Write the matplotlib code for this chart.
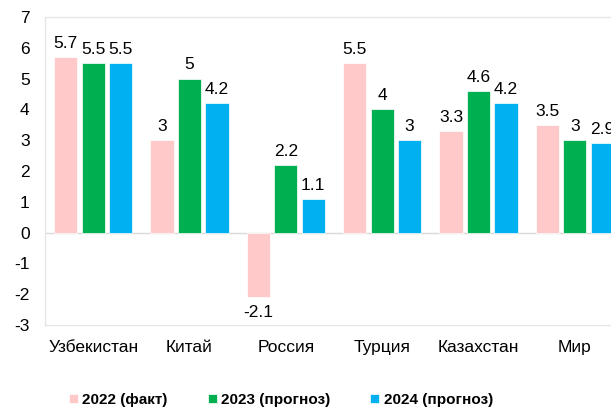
import numpy as np
import matplotlib.pyplot as plt
from matplotlib.ticker import FuncFormatter

plt.rcParams['font.family'] = ['Liberation Sans', 'DejaVu Sans']

countries = ['Узбекистан', 'Китай', 'Россия', 'Турция', 'Казахстан', 'Мир']
fact_2022 = [5.7, 3, -2.1, 5.5, 3.3, 3.5]
fc_2023 = [5.5, 5, 2.2, 4, 4.6, 3]
fc_2024 = [5.5, 4.2, 1.1, 3, 4.2, 2.9]
series_names = ['2022 (факт)', '2023 (прогноз)', '2024 (прогноз)']
colors = ['#FFC9C9', '#00B050', '#00B0F0']

fig = plt.figure(figsize=(6.11, 4.08), dpi=100)
ax = fig.add_axes([45 / 611, 1 - 325 / 408, 578 / 611, 308 / 408])

x = np.arange(len(countries))
w = 0.24
step = 0.285
for i, (vals, name, c) in enumerate(zip([fact_2022, fc_2023, fc_2024], series_names, colors)):
    pos = x + (i - 1) * step
    ax.bar(pos, vals, width=w, color=c, label=name, edgecolor='white', linewidth=0.5, zorder=2)
    for p, v in zip(pos, vals):
        txt = ('%g' % v)
        if v >= 0:
            ax.text(p, v + 0.2, txt, ha='center', va='bottom', fontsize=12.5)
        else:
            ax.text(p, v - 0.25, txt, ha='center', va='top', fontsize=12.5)

ax.set_xlim(-0.5, 5.5)
ax.set_ylim(-3, 7)
ax.set_yticks(range(-3, 8))
ax.yaxis.set_major_formatter(FuncFormatter(lambda v, p: '%d' % v))
ax.set_xticks(x)
ax.set_xticklabels(countries)
ax.tick_params(length=0, labelsize=12.5, pad=11)
ax.tick_params(axis='y', pad=11)
ax.axhline(0, color='#D9D9D9', linewidth=1, zorder=1)
for s in ax.spines.values():
    s.set_color('#E6E6E6')
    s.set_linewidth(1)

leg = fig.legend(loc='center', bbox_to_anchor=(281 / 611, 1 - 400 / 408), ncol=3, frameon=False,
                 handlelength=0.6, handleheight=0.6, handletextpad=0.3, columnspacing=2.6,
                 prop={'weight': 'bold', 'size': 11})

fig.savefig('out.png', dpi=100)
